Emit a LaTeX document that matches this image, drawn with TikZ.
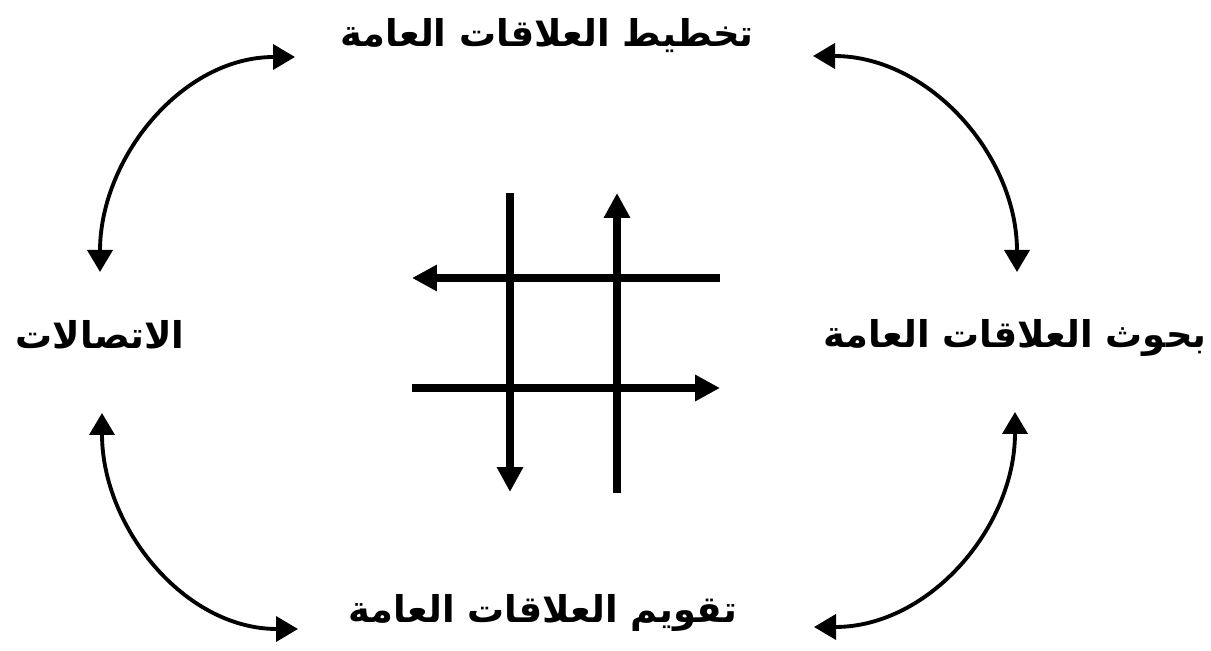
\documentclass[tikz,border=0pt]{standalone}
\usepackage{fontspec}
\usepackage{tikz}
\usetikzlibrary{arrows.meta,positioning}
\TeXXeTstate=1
\newfontfamily\arabicfont[Script=Arabic]{DejaVu Sans}
\definecolor{inkc}{HTML}{000000}
\tikzset{
  cyc/.style={{Triangle[length=4.4mm,width=5mm]}-{Triangle[length=4.4mm,width=5mm]},line width=2.2pt,inkc},
  grd/.style={-{Triangle[length=5mm,width=5mm]},line width=4pt,inkc},
  lbl/.style={inner sep=0pt,font=\arabicfont\bfseries\fontsize{21}{25}\selectfont,text=inkc}
}
\begin{document}
\begin{tikzpicture}[x=0.02cm,y=-0.02cm]
\useasboundingbox (0,0) rectangle (1211,651);
% labels
\node[lbl] (plan) at (547,36) {\beginR تخطيط العلاقات العامة\endR};
\node[lbl] (comm) at (100,335) {\beginR الاتصالات\endR};
\node[lbl] (rsrch) at (1015,338) {\beginR بحوث العلاقات العامة\endR};
\node[lbl] (evalu) at (543,613) {\beginR تقويم العلاقات العامة\endR};
% ends of the cycle arrows
\coordinate (plW) at (295,57);  \coordinate (plE) at (813,56);
\coordinate (coN) at (100,272); \coordinate (coS) at (102,413);
\coordinate (rsN) at (1017,272);\coordinate (rsS) at (1015,412);
\coordinate (evW) at (298,629); \coordinate (evE) at (814,627);
\draw[cyc] (plW) to[out=180,in=90] (coN);
\draw[cyc] (plE) to[out=0,in=90] (rsN);
\draw[cyc] (coS) to[out=-90,in=180] (evW);
\draw[cyc] (rsS) to[out=-90,in=0] (evE);
% central grid
\coordinate (v1t) at (510,193); \coordinate (v1b) at (510,492);
\coordinate (v2t) at (617,193); \coordinate (v2b) at (617,493);
\coordinate (h1l) at (412,278); \coordinate (h1r) at (720,278);
\coordinate (h2l) at (412,388); \coordinate (h2r) at (720,388);
\draw[grd] (v1t) -- (v1b);
\draw[grd] (v2b) -- (v2t);
\draw[grd] (h1r) -- (h1l);
\draw[grd] (h2l) -- (h2r);
\end{tikzpicture}
\end{document}
